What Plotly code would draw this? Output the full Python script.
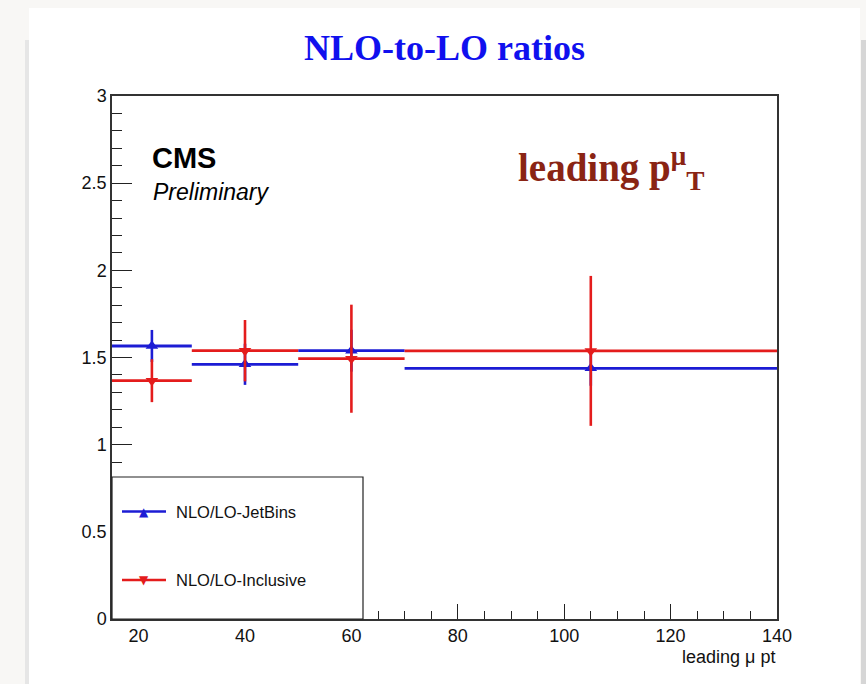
import plotly.graph_objects as go

# ---- data ----
bin_lo = [15, 30, 50, 70]
bin_hi = [30, 50, 70, 140]
jetbins = [1.566, 1.461, 1.539, 1.438]
jetbins_err = [0.092, 0.118, 0.12, 0.10]
inclusive = [1.367, 1.539, 1.493, 1.538]
inclusive_err = [0.123, 0.176, 0.31, 0.43]
y_ticks = [0, 0.5, 1, 1.5, 2, 2.5, 3]
y_tick_labels = ["0", "0.5", "1", "1.5", "2", "2.5", "3"]
x_ticks = [20, 40, 60, 80, 100, 120, 140]
x_tick_labels = ["20", "40", "60", "80", "100", "120", "140"]
series_names = ["NLO/LO-JetBins", "NLO/LO-Inclusive"]

centers = [(a + b) / 2 for a, b in zip(bin_lo, bin_hi)]
half_w = [(b - a) / 2 for a, b in zip(bin_lo, bin_hi)]

BLUE = "#1c1cd4"
RED = "#e41c1c"

fig = go.Figure()
for vals, errs, col, sym, name in [
    (jetbins, jetbins_err, BLUE, "triangle-up", series_names[0]),
    (inclusive, inclusive_err, RED, "triangle-down", series_names[1]),
]:
    fig.add_trace(go.Scatter(
        x=centers, y=vals, mode="markers", name=name,
        marker=dict(symbol=sym, size=11, color=col),
        error_x=dict(type="data", array=half_w, width=0, thickness=2.8, color=col),
        error_y=dict(type="data", array=errs, width=0, thickness=2.6, color=col),
        showlegend=False,
    ))

# plot area pixel geometry
L, R, T, B = 112, 777, 96, 619
W, H = R - L, B - T
def px(x):
    return (x - L) / W
def py(y):
    return (B - y) / H

shapes = [
    dict(type="rect", xref="paper", yref="paper", x0=px(29), x1=px(860), y0=py(700), y1=py(8),
         fillcolor="white", line=dict(width=0), layer="below"),
    dict(type="rect", xref="paper", yref="paper", x0=px(25), x1=px(29), y0=py(700), y1=py(40),
         fillcolor="#e6e6e6", line=dict(width=0), layer="below"),
    dict(type="rect", xref="paper", yref="paper", x0=px(861), x1=px(867), y0=py(700), y1=py(40),
         fillcolor="#d6d6d6", line=dict(width=0), layer="below"),
    dict(type="rect", xref="paper", yref="paper", x0=0, x1=px(363), y0=0, y1=py(477),
         fillcolor="white", line=dict(color="#222", width=1.2), layer="above"),
]
annotations = []
for i, (name, col, glyph) in enumerate([(series_names[0], BLUE, "▲"), (series_names[1], RED, "▼")]):
    yy = [511.5, 580][i]
    shapes.append(dict(type="line", xref="paper", yref="paper", x0=px(122), x1=px(166),
                       y0=py(yy), y1=py(yy), line=dict(color=col, width=2.6)))
    annotations.append(dict(xref="paper", yref="paper", x=px(144), y=py(yy), text=glyph,
                            showarrow=False, font=dict(size=12, color=col, family="DejaVu Sans"),
                            xanchor="center", yanchor="middle"))
    annotations.append(dict(xref="paper", yref="paper", x=px(174), y=py(yy), text=name,
                            showarrow=False, font=dict(size=16.5, color="#111", family="Liberation Sans"),
                            xanchor="left", yanchor="middle"))

annotations += [
    dict(xref="paper", yref="paper", x=px(444), y=py(48), text="<b>NLO-to-LO ratios</b>",
         showarrow=False, font=dict(size=36, color="#1010ee", family="Liberation Serif"),
         xanchor="center", yanchor="middle"),
    dict(xref="paper", yref="paper", x=px(150), y=py(158), text="<b>CMS</b>",
         showarrow=False, font=dict(size=29, color="black", family="Liberation Sans"),
         xanchor="left", yanchor="middle"),
    dict(xref="paper", yref="paper", x=px(151), y=py(192), text="<i>Preliminary</i>",
         showarrow=False, font=dict(size=23, color="black", family="Liberation Sans"),
         xanchor="left", yanchor="middle"),
    dict(xref="paper", yref="paper", x=px(516), y=py(168),
         text="<b>leading p<sup>μ</sup><sub>T</sub></b>",
         showarrow=False, font=dict(size=39, color="#8a2414", family="Liberation Serif"),
         xanchor="left", yanchor="middle"),
    dict(xref="paper", yref="paper", x=1.0, y=py(657), text="leading μ pt",
         showarrow=False, font=dict(size=18, color="#111", family="Liberation Sans"),
         xanchor="right", yanchor="middle"),
]

fig.update_layout(
    width=866, height=684,
    margin=dict(l=L, r=866 - R, t=T, b=684 - B),
    paper_bgcolor="#f8f7f5", plot_bgcolor="white",
    shapes=shapes, annotations=annotations,
    xaxis=dict(range=[15, 140], tickvals=x_ticks, ticktext=x_tick_labels,
               ticks="inside", ticklen=15, tickwidth=1.2, tickcolor="#222",
               minor=dict(dtick=5, tick0=0, ticks="inside", ticklen=8, tickwidth=1.2, tickcolor="#222"),
               showline=True, linecolor="#333", linewidth=1.5, mirror=True,
               showgrid=False, zeroline=False,
               tickfont=dict(size=18, color="#111", family="Liberation Sans")),
    yaxis=dict(range=[0, 3], tickvals=y_ticks, ticktext=y_tick_labels,
               ticks="inside", ticklen=20, tickwidth=1.2, tickcolor="#222",
               minor=dict(dtick=0.1, tick0=0, ticks="inside", ticklen=10, tickwidth=1.2, tickcolor="#222"),
               showline=True, linecolor="#333", linewidth=1.5, mirror=True,
               showgrid=False, zeroline=False,
               tickfont=dict(size=18, color="#111", family="Liberation Sans")),
    showlegend=False,
)

fig.write_html("out.html", config={"displayModeBar": False},
               post_script="document.body.style.margin='0';document.body.style.background='#f8f7f5';")
